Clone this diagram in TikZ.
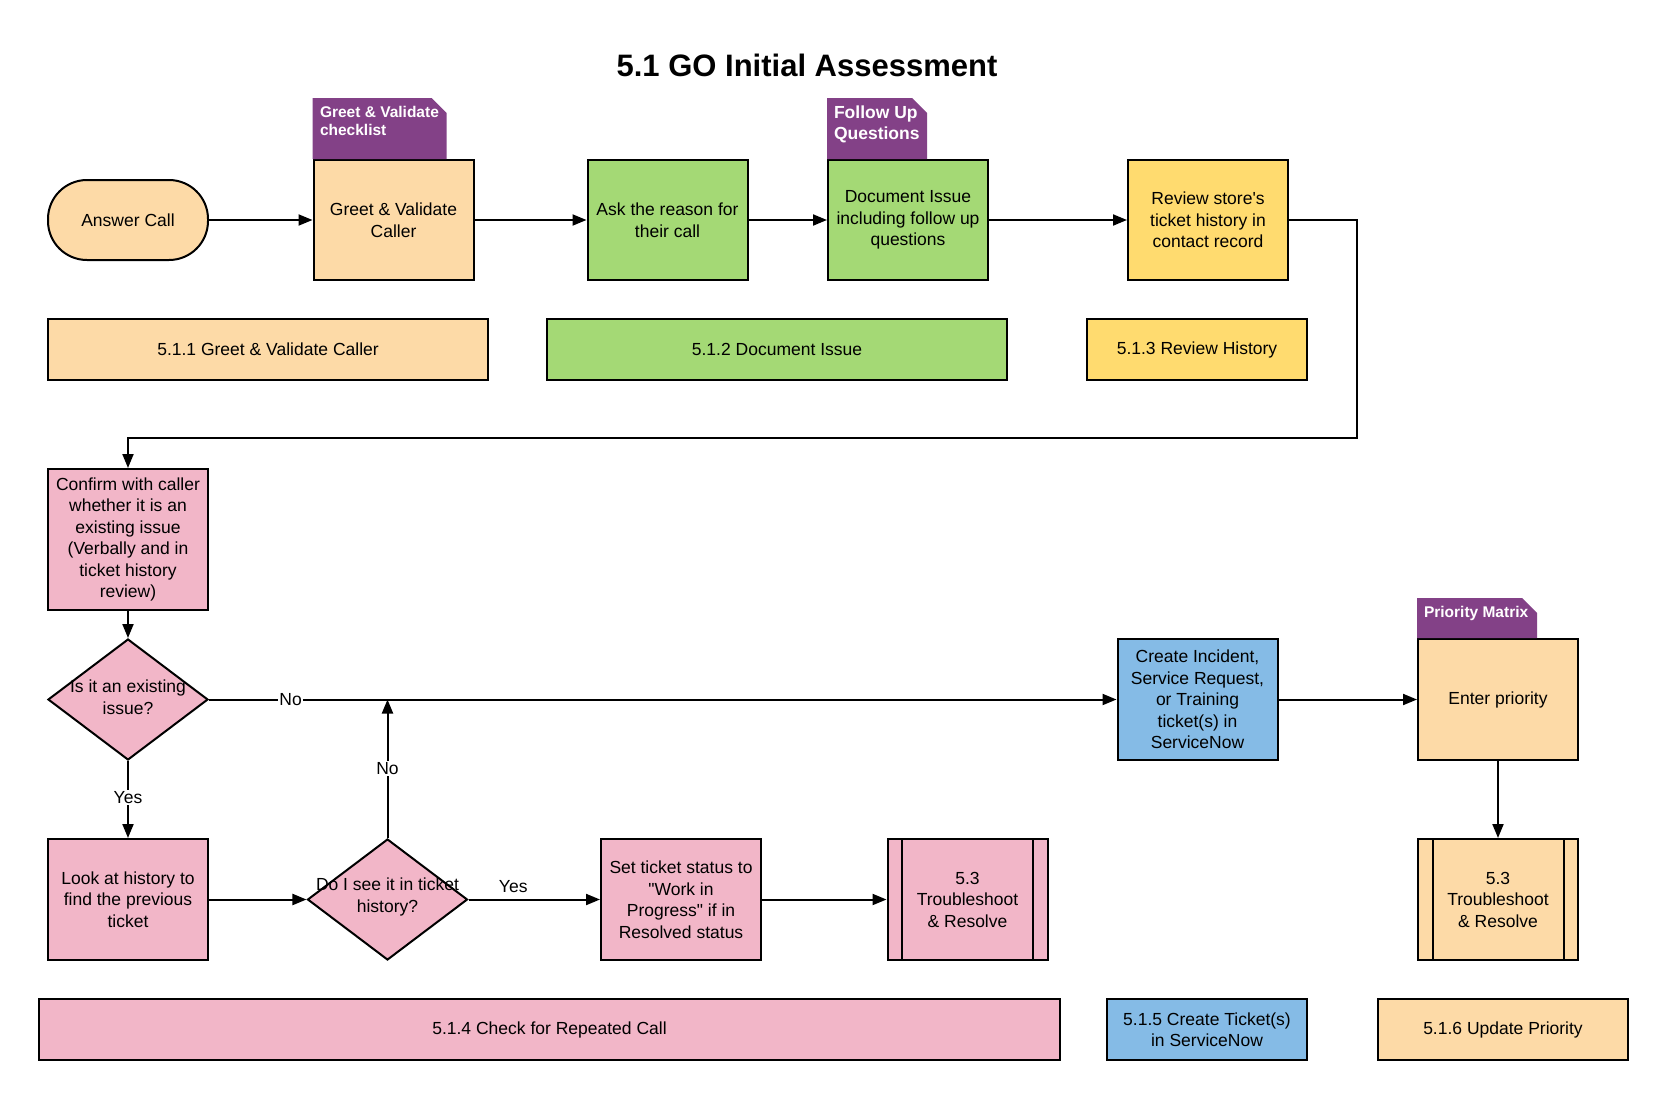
\documentclass[tikz,border=0pt]{standalone}
\usepackage{fontspec}
\setmainfont{Liberation Sans}
\usetikzlibrary{arrows.meta,shapes.geometric}

\definecolor{peach}{HTML}{FDDAA7}
\definecolor{leaf}{HTML}{A4D975}
\definecolor{gold}{HTML}{FFDB6F}
\definecolor{rose}{HTML}{F2B6C8}
\definecolor{sky}{HTML}{85BBE6}
\definecolor{plum}{HTML}{834187}

\newcommand\tabshape[3]{\fill [plum] (#1.north west) -- ++(0,-#3) -- ++(#2-15,0) -- ++(15,15) -- ([xshift=#2pt]#1.north west) -- cycle;}
\newcommand\predef[1]{\draw ([xshift=15.5pt]#1.north west) -- ([xshift=15.5pt]#1.south west);
\draw ([xshift=-15.5pt]#1.north east) -- ([xshift=-15.5pt]#1.south east);}

\begin{document}
\begin{tikzpicture}[x=1pt,y=-1pt,line width=2pt,font=\fontsize{17.5}{21.5}\selectfont]
\tikzstyle{box}=[draw, rectangle, minimum width=160pt, minimum height=120pt, align=center, inner sep=2pt]
\tikzstyle{secbox}=[draw, rectangle, minimum height=61pt, align=center, inner sep=2pt]
\tikzstyle{decision}=[draw, diamond, fill=rose, minimum width=160pt, minimum height=121pt, inner sep=0pt]
\tikzstyle{tabtext}=[anchor=west, align=left, inner sep=0pt, text=white, font=\bfseries\fontsize{15.5}{18}\selectfont]
\tikzstyle{arr}=[-{Triangle[length=14pt,width=11pt]}]
\tikzstyle{lbl}=[fill=white, inner sep=1.5pt]
\useasboundingbox (0,0) rectangle (1668,1100);
\node (title) at (807,65) {\bfseries\fontsize{31}{36}\selectfont 5.1 GO Initial Assessment};
\node [draw, fill=peach, rounded corners=39pt, minimum width=160pt, minimum height=80pt] (answer) at (128,220) {Answer Call};
\node [box, fill=peach] (greet) at (393.5,220) {Greet \& Validate\\Caller};
\node [box, fill=leaf] (ask) at (667.5,220) {Ask the reason for\\their call};
\node [box, fill=leaf] (doc) at (908,220) {Document Issue\\including follow up\\questions};
\node [box, fill=gold] (review) at (1208,220) {Review store\textquotesingle s\\ticket history in\\contact record};
\tabshape{greet}{134}{61}
\node [tabtext] (greettab) at (319,121) {Greet \& Validate\\checklist};
\tabshape{doc}{100}{61}
\node [tabtext, font=\bfseries\fontsize{17.5}{21}\selectfont] (doctab) at (833,124.5) {Follow Up\\Questions};
\node [secbox, fill=peach, minimum width=440pt] (s511) at (268,349.5) {5.1.1 Greet \& Validate Caller};
\node [secbox, fill=leaf, minimum width=460pt] (s512) at (777,349.5) {5.1.2 Document Issue};
\node [secbox, fill=gold, minimum width=220pt] (s513) at (1197,349.5) {5.1.3 Review History};
\node [box, fill=rose, minimum height=141pt] (confirm) at (128,539.5) {Confirm with caller\\whether it is an\\existing issue\\(Verbally and in\\ticket history\\review)};
\node [decision] (exist) at (128,699.5) {};
\node [align=center] (existtext) at (128,697) {Is it an existing\\issue?};
\node [box, fill=sky, minimum height=121pt] (create) at (1197.5,699.5) {Create Incident,\\Service Request,\\or Training\\ticket(s) in\\ServiceNow};
\node [box, fill=peach, minimum height=121pt] (prio) at (1498,699.5) {Enter priority};
\tabshape{prio}{120}{40}
\node [tabtext, font=\bfseries\fontsize{15.5}{18}\selectfont] (priotab) at (1423,613) {Priority Matrix};
\node [box, fill=rose, minimum height=121pt] (look) at (128,899.5) {Look at history to\\find the previous\\ticket};
\node [decision] (seen) at (387.5,899.5) {};
\node [align=center] (seentext) at (387.5,897) {Do I see it in ticket\\history?};
\node [box, fill=rose, minimum height=121pt] (status) at (681,899.5) {Set ticket status to\\\textquotedbl Work in\\Progress\textquotedbl{} if in\\Resolved status};
\node [box, fill=rose, minimum height=121pt] (trouble) at (967.5,899.5) {5.3\\Troubleshoot\\\& Resolve};
\predef{trouble}
\node [box, fill=peach, minimum height=121pt] (trouble2) at (1498,899.5) {5.3\\Troubleshoot\\\& Resolve};
\predef{trouble2}
\node [secbox, fill=rose, minimum width=1021pt] (s514) at (549.5,1029.5) {5.1.4 Check for Repeated Call};
\node [secbox, fill=sky, minimum width=200pt] (s515) at (1207,1029.5) {5.1.5 Create Ticket(s)\\in ServiceNow};
\node [secbox, fill=peach, minimum width=250pt] (s516) at (1503,1029.5) {5.1.6 Update Priority};
\coordinate (bend) at (1357,438);
\draw [arr] (answer) -- (greet);
\draw [arr] (greet) -- (ask);
\draw [arr] (ask) -- (doc);
\draw [arr] (doc) -- (review);
\draw [arr] (review.east) -| (bend) -| (confirm.north);
\draw [arr] (confirm) -- (exist);
\draw [arr] (exist.east) -- node [lbl, pos=0.09] {No} (create.west);
\draw [arr] (exist.south) -- node [lbl, pos=0.47] {Yes} (look.north);
\draw [arr] (look) -- (seen);
\draw [arr] (seen.north) -- node [lbl] {No} (seen.north |- exist.east);
\draw [arr] (seen.east) -- node [above=3pt, pos=0.34] {Yes} (status.west);
\draw [arr] (status) -- (trouble);
\draw [arr] (create) -- (prio);
\draw [arr] (prio) -- (trouble2);
\end{tikzpicture}
\end{document}
